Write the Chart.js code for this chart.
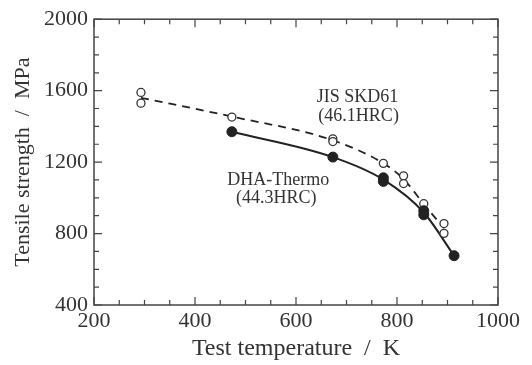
<!DOCTYPE html>
<html><head><meta charset="utf-8">
<script src="https://cdn.jsdelivr.net/npm/chart.js@4"></script>
<style>html,body{margin:0;padding:0;background:#fff}#wrap{width:532px;height:365px}</style>
</head><body><div id="wrap"><canvas id="c" width="532" height="365"></canvas></div>
<script>
// ---- data ----
const xTicks = [200, 400, 600, 800, 1000];
const yTicks = [400, 800, 1200, 1600, 2000];

// JIS SKD61 (46.1HRC) – open circles
const skdTemps    = [293, 293, 473, 673, 673, 773, 813, 813, 853, 893, 893];
const skdStrength = [1590, 1530, 1452, 1330, 1315, 1193, 1123, 1080, 967, 856, 801];
// DHA-Thermo (44.3HRC) – filled circles
const dhaTemps    = [473, 673, 773, 773, 853, 853, 913];
const dhaStrength = [1370, 1228, 1112, 1092, 928, 905, 676];

// fitted trend curves
const skdFitTemps    = [293, 473, 673, 773, 813, 853, 893];
const skdFitStrength = [1560, 1455, 1322, 1193, 1105, 965, 830];
const dhaFitTemps    = [473, 673, 773, 853, 913];
const dhaFitStrength = [1370, 1228, 1102, 918, 676];

// annotation labels
const annoText = ["JIS SKD61", "(46.1HRC)", "DHA-Thermo", "(44.3HRC)"];
const annoX    = [722, 724, 565, 561];
const annoY    = [1564, 1459, 1101, 996];

const xTitle = "Test temperature  /  K";
const yTitle = "Tensile strength  /  MPa";

const FONT = '"Liberation Serif", "Times New Roman", serif';
const TXT = '#333';
const pts = (xs, ys) => xs.map((x, i) => ({x, y: ys[i]}));

const framePlugin = {
  id: 'frame',
  afterDraw(chart) {
    const {ctx, chartArea: a, scales: {x, y}} = chart;
    ctx.save();
    ctx.strokeStyle = '#444';
    ctx.lineWidth = 1.5;
    ctx.strokeRect(a.left, a.top, a.right - a.left, a.bottom - a.top);
    ctx.lineWidth = 1.2;
    ctx.beginPath();
    for (let v = 200; v <= 1000; v += 50) {
      const px = x.getPixelForValue(v);
      const len = (v % 200 === 0) ? 8 : 5;
      ctx.moveTo(px, a.bottom); ctx.lineTo(px, a.bottom - len);
      ctx.moveTo(px, a.top); ctx.lineTo(px, a.top + len);
    }
    for (let v = 400; v <= 2000; v += 100) {
      const py = y.getPixelForValue(v);
      const len = (v % 400 === 0) ? 8 : 5;
      ctx.moveTo(a.left, py); ctx.lineTo(a.left + len, py);
      ctx.moveTo(a.right, py); ctx.lineTo(a.right - len, py);
    }
    ctx.stroke();

    ctx.fillStyle = TXT;
    ctx.textAlign = 'center';
    ctx.textBaseline = 'middle';
    ctx.font = '18px ' + FONT;
    annoText.forEach((t, i) => {
      ctx.fillText(t, x.getPixelForValue(annoX[i]), y.getPixelForValue(annoY[i]));
    });
    ctx.font = '24px ' + FONT;
    ctx.fillText(xTitle, (a.left + a.right) / 2, 349);
    ctx.save();
    ctx.translate(23, (a.top + a.bottom) / 2);
    ctx.rotate(-Math.PI / 2);
    ctx.font = '22px ' + FONT;
    ctx.fillText(yTitle, 0, 0);
    ctx.restore();
    ctx.restore();
  }
};

new Chart(document.getElementById('c'), {
  type: 'scatter',
  data: {
    datasets: [
      { label: 'DHA-Thermo', data: pts(dhaTemps, dhaStrength), pointRadius: 5, pointHoverRadius: 5,
        pointBackgroundColor: '#222', pointBorderColor: '#222', pointBorderWidth: 1 },
      { label: 'JIS SKD61', data: pts(skdTemps, skdStrength), pointRadius: 4, pointHoverRadius: 4,
        pointBackgroundColor: '#fff', pointBorderColor: '#333', pointBorderWidth: 1.3 },
      { label: 'DHA fit', data: pts(dhaFitTemps, dhaFitStrength), showLine: true, pointRadius: 0,
        borderColor: '#222', borderWidth: 2, cubicInterpolationMode: 'monotone', fill: false },
      { label: 'SKD fit', data: pts(skdFitTemps, skdFitStrength), showLine: true, pointRadius: 0,
        borderColor: '#222', borderWidth: 1.8, borderDash: [8, 6], cubicInterpolationMode: 'monotone', fill: false }
    ]
  },
  options: {
    responsive: false,
    animation: false,
    devicePixelRatio: 1,
    layout: { padding: { left: 0, top: 15, right: 34, bottom: 0 } },
    plugins: { legend: { display: false }, tooltip: { enabled: false } },
    scales: {
      x: {
        type: 'linear', min: 200, max: 1000,
        afterBuildTicks: s => { s.ticks = xTicks.map(v => ({value: v})); },
        afterFit: s => { s.height = 60; },
        grid: { display: false, drawTicks: false },
        border: { display: false },
        ticks: { color: TXT, font: { family: FONT, size: 22 }, padding: 3, maxRotation: 0,
                 callback: v => String(v) }
      },
      y: {
        type: 'linear', min: 400, max: 2000,
        afterBuildTicks: s => { s.ticks = yTicks.map(v => ({value: v})); },
        afterFit: s => { s.width = 94; },
        grid: { display: false, drawTicks: false },
        border: { display: false },
        ticks: { color: TXT, font: { family: FONT, size: 22 }, padding: 6,
                 callback: v => String(v) }
      }
    }
  },
  plugins: [framePlugin]
});
</script>
</body></html>
